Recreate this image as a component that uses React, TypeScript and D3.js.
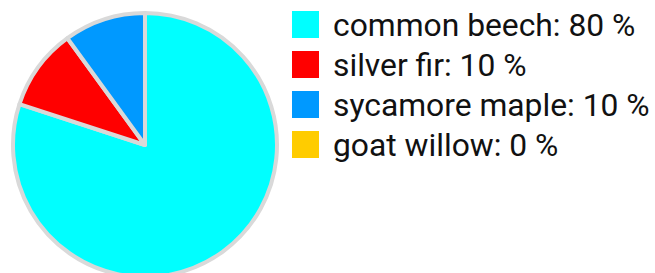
import { useEffect, useRef } from 'react'
import * as d3 from 'd3'

const W = 655, H = 273

const species = ['common beech', 'silver fir', 'sycamore maple', 'goat willow']
const shares = [80, 10, 10, 0]
const colors = ['#00ffff', '#ff0000', '#0099ff', '#ffcc00']

export default function App() {
  const svgRef = useRef<SVGSVGElement>(null)

  useEffect(() => {
    const svg = d3.select(svgRef.current!)
    svg.selectAll('*').remove()

    const cx = 145, cy = 145, r = 132
    const pie = d3.pie<number>().sort(null).value(d => d)
    const arc = d3.arc<d3.PieArcDatum<number>>().innerRadius(0).outerRadius(r)

    const g = svg.append('g').attr('transform', `translate(${cx},${cy})`)
    g.selectAll('path')
      .data(pie(shares).filter(d => d.value > 0))
      .join('path')
      .attr('d', arc)
      .attr('fill', d => colors[d.index])
      .attr('stroke', '#d9d9d9')
      .attr('stroke-width', 4)
      .attr('stroke-linejoin', 'round')

    // Legend
    const lg = svg.append('g').attr('transform', 'translate(292,11)')
    species.forEach((name, i) => {
      const row = lg.append('g').attr('transform', `translate(0,${i * 40})`)
      row.append('rect').attr('width', 27).attr('height', 27).attr('fill', colors[i])
      row.append('text').attr('x', 41).attr('y', 24.5)
        .attr('font-family', 'Roboto, sans-serif').attr('font-size', 31.8)
        .attr('fill', '#111').text(`${name}: ${shares[i]} %`)
    })
  }, [])

  return (
    <svg ref={svgRef} width={W} height={H} viewBox={`0 0 ${W} ${H}`}
      style={{ position: 'absolute', left: 0, top: 0, display: 'block' }} />
  )
}
